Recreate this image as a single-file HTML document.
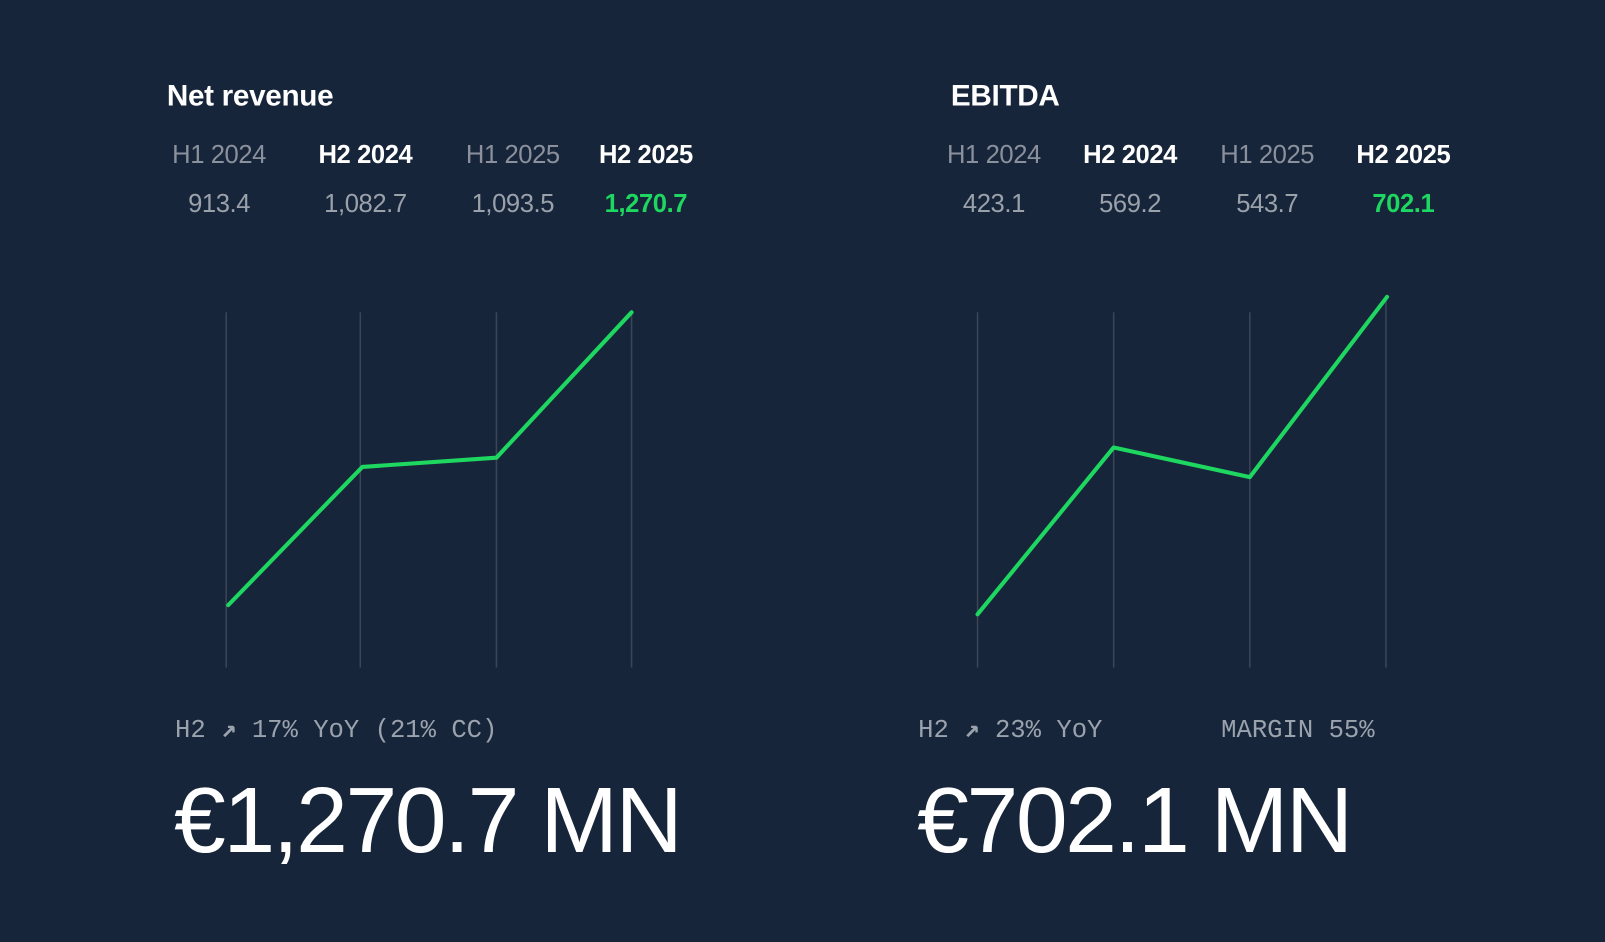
<!DOCTYPE html>
<html><head><meta charset="utf-8"><style>
html,body{margin:0;padding:0;background:#17253a;overflow:hidden}
svg{display:block}
</style></head><body>
<svg width="1605" height="942" viewBox="0 0 1568 920" preserveAspectRatio="none" xmlns="http://www.w3.org/2000/svg">
<rect width="1568" height="920" fill="#17253a"/>
<g font-family="Liberation Sans, sans-serif">
<text x="163" y="103" font-size="29" font-weight="bold" fill="#fff" letter-spacing="-0.3">Net revenue</text>
<text x="929" y="103" font-size="29" font-weight="bold" fill="#fff" letter-spacing="-0.3">EBITDA</text>
<g font-size="25" text-anchor="middle" letter-spacing="-0.4">
<text x="214" y="159" fill="#8a919c">H1 2024</text>
<text x="357" y="159" fill="#fff" font-weight="bold">H2 2024</text>
<text x="501" y="159" fill="#8a919c">H1 2025</text>
<text x="631" y="159" fill="#fff" font-weight="bold">H2 2025</text>
<text x="214" y="207" fill="#9aa1ab">913.4</text>
<text x="357" y="207" fill="#9aa1ab">1,082.7</text>
<text x="501" y="207" fill="#9aa1ab">1,093.5</text>
<text x="631" y="207" fill="#1ed760" font-weight="bold">1,270.7</text>
<text x="971" y="159" fill="#8a919c">H1 2024</text>
<text x="1104" y="159" fill="#fff" font-weight="bold">H2 2024</text>
<text x="1238" y="159" fill="#8a919c">H1 2025</text>
<text x="1371" y="159" fill="#fff" font-weight="bold">H2 2025</text>
<text x="971" y="207" fill="#9aa1ab">423.1</text>
<text x="1104" y="207" fill="#9aa1ab">569.2</text>
<text x="1238" y="207" fill="#9aa1ab">543.7</text>
<text x="1371" y="207" fill="#1ed760" font-weight="bold">702.1</text>
</g>
<g stroke="#3a4658" stroke-width="1.5">
<line x1="221" y1="305" x2="221" y2="652"/><line x1="352" y1="305" x2="352" y2="652"/>
<line x1="485" y1="305" x2="485" y2="652"/><line x1="617" y1="305" x2="617" y2="652"/>
<line x1="955" y1="305" x2="955" y2="652"/><line x1="1088" y1="305" x2="1088" y2="652"/>
<line x1="1221" y1="305" x2="1221" y2="652"/><line x1="1354" y1="290" x2="1354" y2="652"/>
</g>
<polyline points="223,591 354,456 485,447 617,305" fill="none" stroke="#1ed760" stroke-width="4" stroke-linejoin="round" stroke-linecap="round"/>
<polyline points="955,600 1088,437 1221,466 1355,290" fill="none" stroke="#1ed760" stroke-width="4" stroke-linejoin="round" stroke-linecap="round"/>
<g font-family="Liberation Mono, monospace" font-size="25" fill="#9aa3ad">
<text x="171" y="720">H2 <tspan font-weight="bold">↗</tspan> 17% YoY (21% CC)</text>
<text x="897" y="720">H2 <tspan font-weight="bold">↗</tspan> 23% YoY</text>
<text x="1193" y="720">MARGIN 55%</text>
</g>
<text x="170" y="832" font-size="91" fill="#fff" letter-spacing="-2.4">€1,270.7 MN</text>
<text x="896" y="832" font-size="91" fill="#fff" letter-spacing="-2.4">€702.1 MN</text>
</g>
</svg>
</body></html>
